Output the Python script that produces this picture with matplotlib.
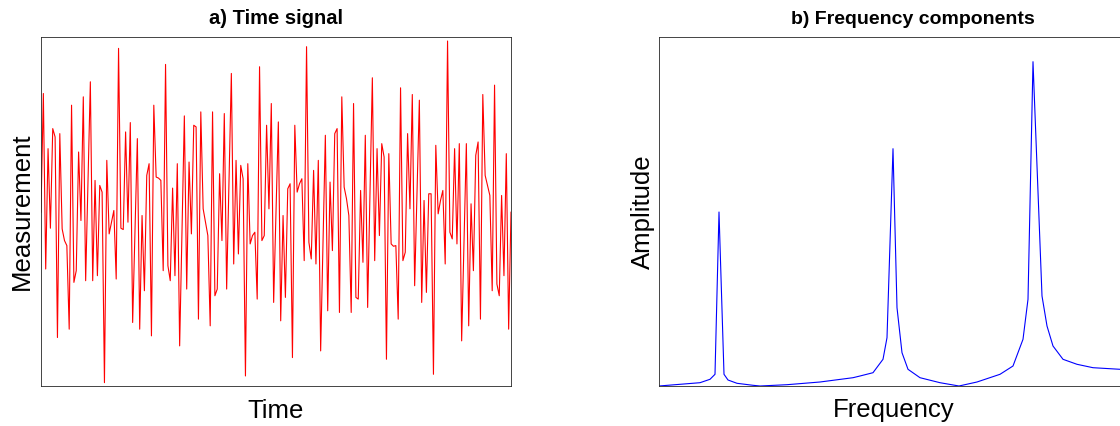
import numpy as np
import matplotlib.pyplot as plt

plt.rcParams['font.family'] = ['Liberation Sans', 'DejaVu Sans']

# time signal (arbitrary units, one value per sample)
measurement = [
    0, 355, -170, 190, -48, 250, 225, -375, 235, -50, -85, -100, -350, 320, -210, -175,
    180, -25, 345, -205, 90, 390, -205, 95, -190, 80, 60, -510, 155, -65, -30, 5, -200, 490,
    -48, -52, 240, -30, 268, -330, -55, 220, -350, -10, -235, 110, 145, -370, 320, 105,
    102, 95, -175, 442, -160, -205, 72, -190, 145, -400, -60, 288, -230, 150, -65, 260, 255,
    -320, 300, 10, -30, -70, -340, 300, -250, -230, 115, -85, 295, -230, 90, 415, -155,
    155, -125, 140, 100, -490, 145, -95, -70, -60, -260, 435, -85, -70, 260, 10, 325, -270,
    0, 270, -325, -10, -255, 70, 85, -435, 260, 60, 85, 100, -145, 495, -90, -140, 125,
    -155, 155, -415, -90, 230, -295, 90, -115, 235, 250, -300, 345, 75, 40, -10, -300,
    325, -255, -260, 65, -150, 230, -285, 60, 402, -145, 190, -70, 205, 165, -440, 175,
    -95, -102, -100, -320, 372, -145, -120, 235, 10, 352, -220, 60, 335, -270, 35, -240, 55, 55,
    -485, 200, -5, 35, 65, -155, 512, -60, -80, 190, -95, 205, -385, -90, 205, -340, 25,
    -175, 170, 210, -320, 352, 110, 80, 50, -235, 380, -215, -250, 50, -190, 175, -350, 0,
]

# frequency spectrum
freq = [0, 41, 51, 56, 60, 65, 69, 78, 94, 101, 128, 161, 194, 201, 214, 224, 228, 234,
        238, 243, 249, 261, 281, 300, 318, 341, 354, 364, 369, 374, 383, 388, 394, 404,
        418, 434, 461]
amplitude = [0, 3.3, 6.7, 11.7, 174, 11.7, 6, 2.7, 0.7, 0, 1.3, 4, 8.3, 10, 13.3, 26.7,
             48.3, 237.3, 78.3, 33.3, 16.7, 8.3, 3.3, 0, 4, 11.7, 20, 46.7, 86.7, 324.3,
             90, 60, 40, 26.7, 21.7, 18.3, 16.7]

fig = plt.figure(figsize=(11.2, 4.26), dpi=100)
ax1 = fig.add_axes([41 / 1120, 40 / 426, 470 / 1120, 349 / 426])
ax2 = fig.add_axes([659 / 1120, 40 / 426, 470 / 1120, 349 / 426])

ax1.plot(np.arange(len(measurement)), measurement, color='red', lw=0.8)
ax1.set_xlim(0, len(measurement) - 1)
ax1.set_ylim(-520, 524)
ax1.set_title('a) Time signal', fontsize=14.5, fontweight='bold', pad=9)
ax1.set_xlabel('Time', fontsize=18.5, labelpad=9)
ax1.set_ylabel('Measurement', fontsize=18.5, labelpad=5)

ax2.plot(freq, amplitude, color='blue', lw=0.8)
ax2.set_xlim(0, 470)
ax2.set_ylim(0, 349)
ax2.set_title('b) Frequency components', fontsize=14, fontweight='bold', pad=9, x=0.54)
ax2.set_xlabel('Frequency', fontsize=18.5, labelpad=9)
ax2.set_ylabel('Amplitude', fontsize=18.5, labelpad=3)

for ax in (ax1, ax2):
    ax.set_xticks([])
    ax.set_yticks([])
    for s in ax.spines.values():
        s.set_color('#262626')
        s.set_linewidth(0.6)

fig.savefig('out.png', dpi=100)
